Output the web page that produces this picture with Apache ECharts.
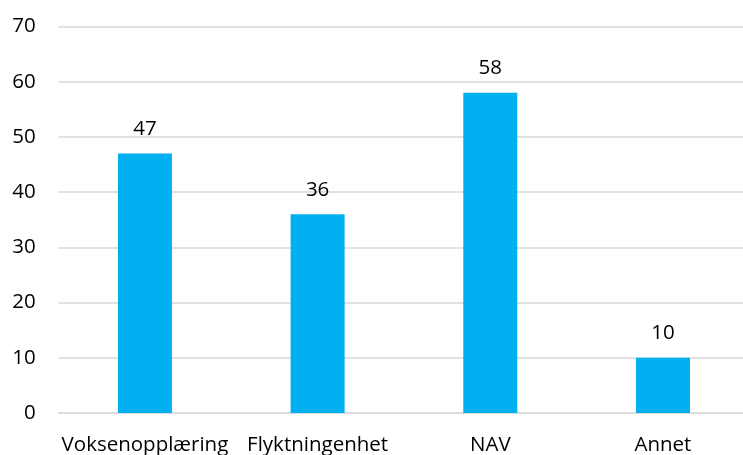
<!DOCTYPE html>
<html>
<head>
<meta charset="utf-8">
<script src="https://cdn.jsdelivr.net/npm/echarts@6/dist/echarts.min.js"></script>
<style>html,body{margin:0;padding:0;background:#fff}#c{width:743px;height:455px}</style>
</head>
<body>
<div id="c"></div>
<script>
const categories = ["Voksenopplæring", "Flyktningenhet", "NAV", "Annet"];
const values = [47, 36, 58, 10];
const yTicks = [0, 10, 20, 30, 40, 50, 60, 70];

const chart = echarts.init(document.getElementById('c'));
const font = "'Open Sans', 'Noto Sans', sans-serif";
chart.setOption({
  animation: false,
  grid: { left: 58.6, width: 690.7, top: 26.5, height: 386.5, containLabel: false, outerBoundsMode: 'none' },
  xAxis: {
    type: 'category',
    data: categories,
    axisLine: { show: true, lineStyle: { color: '#d9d9d9', width: 1.5 } },
    axisTick: { show: false },
    axisLabel: { color: '#000', fontSize: 20.5, fontFamily: font, margin: 22, interval: 0 }
  },
  yAxis: {
    type: 'value',
    min: yTicks[0],
    max: yTicks[yTicks.length - 1],
    interval: 10,
    axisLine: { show: false },
    axisTick: { show: false },
    splitLine: { lineStyle: { color: '#d9d9d9', width: 1.5 } },
    axisLabel: { color: '#000', fontSize: 20.5, fontFamily: font, margin: 23 }
  },
  series: [{
    type: 'bar',
    data: values,
    barWidth: 54,
    itemStyle: { color: '#00b0f0' },
    label: { show: true, position: 'top', distance: 14, color: '#000', fontSize: 20.5, fontFamily: font }
  }]
});
</script>
</body>
</html>
